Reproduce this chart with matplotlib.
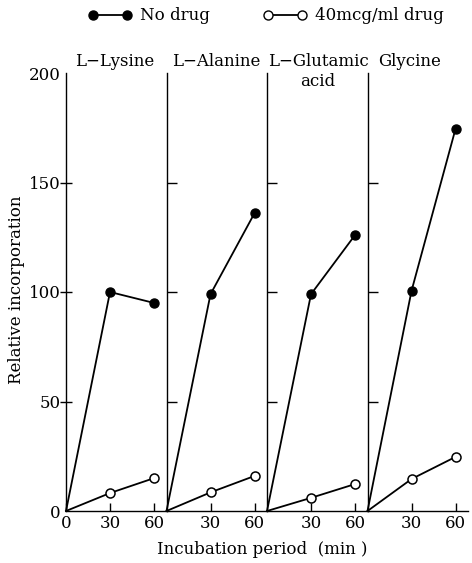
import matplotlib
matplotlib.use("Agg")
import matplotlib.pyplot as plt
from matplotlib.lines import Line2D

plt.rcParams['font.family'] = ['DejaVu Serif']

times = [0, 30, 60]
panels = ["L\u2212Lysine", "L\u2212Alanine", "L\u2212Glutamic\nacid", "Glycine"]
no_drug = [
    [0, 100, 95],
    [0, 99, 136],
    [0, 99, 126],
    [0, 100.5, 174.5],
]
with_drug = [
    [0, 8.2, 15],
    [0, 8.5, 16],
    [0, 6, 12.3],
    [0, 14.6, 24.7],
]
y_ticks = [0, 50, 100, 150, 200]

W, H = 472, 563
fig = plt.figure(figsize=(W / 100, H / 100), dpi=100)

FS = 12
left0 = 66
pw = 100.5
bottom_px = 511
top_px = 73
for i in range(4):
    ax = fig.add_axes([(left0 + pw * i) / W, 1 - bottom_px / H, pw / W, (bottom_px - top_px) / H])
    ax.plot(times, with_drug[i], color='black', lw=1.3, marker='o', ms=6.5,
            mfc='white', mec='black', mew=1.1, clip_on=False, zorder=3, markevery=[1, 2])
    ax.plot(times, no_drug[i], color='black', lw=1.3, marker='o', ms=6.5,
            mfc='black', mec='black', clip_on=False, zorder=4, markevery=[1, 2])
    ax.set_xlim(0, 68.5)
    ax.set_ylim(0, 200)
    ax.spines['top'].set_visible(False)
    ax.spines['right'].set_visible(False)
    ax.spines['left'].set_linewidth(1.0)
    ax.spines['bottom'].set_linewidth(1.0)
    if i == 0:
        ax.set_xticks(times)
        ax.set_xticklabels([str(t) for t in times])
        ax.set_yticks(y_ticks)
        ax.set_yticklabels([str(v) for v in y_ticks])
        ax.tick_params(axis='y', direction='inout', length=8, width=1, labelsize=FS, pad=0)
        ticks = ax.yaxis.get_major_ticks()
        ticks[0].tick1line.set_visible(False)
        ticks[-1].tick1line.set_visible(False)
    else:
        ax.set_xticks(times[1:])
        ax.set_xticklabels([str(t) for t in times[1:]])
        ax.set_yticks(y_ticks[1:-1])
        ax.set_yticklabels([])
        ax.tick_params(axis='y', direction='in', length=7, width=1)
    ax.tick_params(axis='x', direction='in', length=6, width=1, labelsize=FS, pad=3)
    ax.patch.set_alpha(0)

# panel titles
title_x = [115, 216, 318, 410]
for i, t in enumerate(panels):
    lines = t.split("\n")
    fig.text(title_x[i] / W, 1 - 62 / H, lines[0], ha='center', va='center', fontsize=FS)
    if len(lines) > 1:
        fig.text(title_x[i] / W, 1 - 81 / H, lines[1], ha='center', va='center', fontsize=FS)

fig.text(17 / W, 1 - 290 / H, "Relative incorporation", rotation=90, ha='center', va='center', fontsize=FS)
fig.text(262 / W, 1 - 549 / H, "Incubation period  (min )", ha='center', va='center', fontsize=FS)

# legend
h1 = Line2D([], [], color='black', lw=1.3, marker='o', ms=6.5, mfc='black', mec='black')
h2 = Line2D([], [], color='black', lw=1.3, marker='o', ms=6.5, mfc='white', mec='black')
leg = fig.legend([h1, h2], ["No drug", "40mcg/ml drug"], loc='center', ncol=2,
                 bbox_to_anchor=(266 / W, 1 - 16 / H), frameon=False, fontsize=FS,
                 numpoints=2, handlelength=2.6, columnspacing=3.2, handletextpad=0.5)

fig.savefig("out.png", dpi=100)
